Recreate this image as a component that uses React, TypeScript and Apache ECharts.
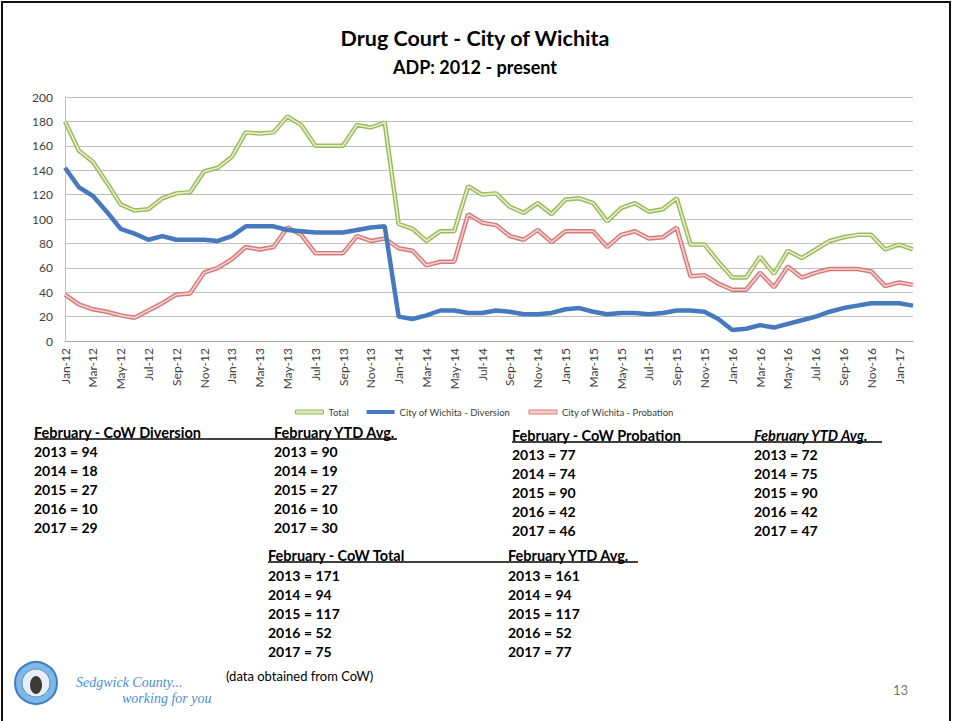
import React, { useEffect, useRef } from "react";
import * as echarts from "echarts";

const months = [
  "Jan-12","Feb-12","Mar-12","Apr-12","May-12","Jun-12","Jul-12","Aug-12","Sep-12","Oct-12","Nov-12","Dec-12",
  "Jan-13","Feb-13","Mar-13","Apr-13","May-13","Jun-13","Jul-13","Aug-13","Sep-13","Oct-13","Nov-13","Dec-13",
  "Jan-14","Feb-14","Mar-14","Apr-14","May-14","Jun-14","Jul-14","Aug-14","Sep-14","Oct-14","Nov-14","Dec-14",
  "Jan-15","Feb-15","Mar-15","Apr-15","May-15","Jun-15","Jul-15","Aug-15","Sep-15","Oct-15","Nov-15","Dec-15",
  "Jan-16","Feb-16","Mar-16","Apr-16","May-16","Jun-16","Jul-16","Aug-16","Sep-16","Oct-16","Nov-16","Dec-16",
  "Jan-17","Feb-17",
];

const total = [
  180,156,147,130,112,107,108,117,121,122,139,142,
  151,171,170,171,184,177,160,160,160,177,175,179,
  96,92,82,90,90,127,120,121,110,105,113,104,
  116,117,113,98,109,113,106,108,117,79,79,65,
  52,52,69,55,74,68,75,82,85,87,87,75,
  79,75,
];

const diversion = [
  142,126,119,106,92,88,83,86,83,83,83,82,
  86,94,94,94,91,90,89,89,89,91,93,94,
  20,18,21,25,25,23,23,25,24,22,22,23,
  26,27,24,22,23,23,22,23,25,25,24,18,
  9,10,13,11,14,17,20,24,27,29,31,31,
  31,29,
];

const probation = [
  38,30,26,24,21,19,25,31,38,39,56,60,
  67,77,75,77,93,87,72,72,72,86,82,84,
  76,74,62,65,65,104,97,95,86,83,91,81,
  90,90,90,77,87,90,84,85,93,53,54,47,
  42,42,56,44,61,52,56,59,59,59,57,45,
  48,46,
];

const seriesNames = ["Total", "City of Wichita - Diversion", "City of Wichita - Probation"];

const years = ["2013", "2014", "2015", "2016", "2017"];
const divFeb = [94, 18, 27, 10, 29];
const divYtd = [90, 19, 27, 10, 30];
const probFeb = [77, 74, 90, 42, 46];
const probYtd = [72, 75, 90, 42, 47];
const totFeb = [171, 94, 117, 52, 75];
const totYtd = [161, 94, 117, 52, 77];

const FONT = "Lato, 'Open Sans', sans-serif";

function txt(text: string, x: number, y: number, o: any = {}) {
  return {
    type: "text",
    x,
    y,
    silent: true,
    style: {
      text,
      fill: o.fill || "#000",
      fontSize: o.size || 14,
      fontWeight: o.weight || "bold",
      fontStyle: o.italic ? "italic" : "normal",
      fontFamily: o.family || FONT,
      align: o.align || "left",
      verticalAlign: "middle",
    },
  };
}

function block(
  x1: number, x2: number, yHead: number, yRow: number, lineEnd: number,
  h1: string, h2: string, v1: number[], v2: number[], italic2: boolean
) {
  const els: any[] = [];
  els.push(txt(h1, x1, yHead, { size: 14.5 }));
  els.push(txt(h2, x2, yHead, { size: 14.5, italic: italic2 }));
  els.push({
    type: "line",
    silent: true,
    shape: { x1: x1, y1: yHead + 7, x2: lineEnd, y2: yHead + 7 },
    style: { stroke: "#000", lineWidth: 1.5 },
  });
  years.forEach((yr, i) => {
    els.push(txt(`${yr} = ${v1[i]}`, x1, yRow + i * 19));
    els.push(txt(`${yr} = ${v2[i]}`, x2, yRow + i * 19));
  });
  return els;
}

export default function App() {
  const ref = useRef<HTMLDivElement>(null);
  useEffect(() => {
    if (!ref.current) return;
    const chart = echarts.init(ref.current, null, { renderer: "svg" });

    const graphics: any[] = [
      {
        type: "rect",
        silent: true,
        shape: { x: 2, y: 2, width: 948, height: 760 },
        style: { fill: "none", stroke: "#111", lineWidth: 2 },
      },
      txt("Drug Court - City of Wichita", 475, 38, { size: 21.5, align: "center" }),
      txt("ADP: 2012 - present", 475, 67, { size: 18, align: "center" }),
      ...block(34, 274, 432, 451, 397, "February - CoW Diversion", "February YTD Avg.", divFeb, divYtd, false),
      ...block(512, 754, 435, 454, 882, "February - CoW Probation", "February YTD Avg.", probFeb, probYtd, true),
      ...block(268, 508, 555, 575, 638, "February - CoW Total", "February YTD Avg.", totFeb, totYtd, false),
      txt("(data obtained from CoW)", 226, 676, { weight: "normal", size: 13 }),
      txt("13", 893, 690, { weight: "normal", size: 13, fill: "#777" }),
      {
        type: "circle",
        silent: true,
        shape: { cx: 36, cy: 683, r: 21 },
        style: { fill: "#7fb8e6", stroke: "#3d7fc1", lineWidth: 2 },
      },
      {
        type: "circle",
        silent: true,
        shape: { cx: 36, cy: 683, r: 14 },
        style: { fill: "#e8eef5", stroke: "#5a93c9", lineWidth: 1 },
      },
      {
        type: "ellipse",
        silent: true,
        shape: { cx: 36, cy: 685, rx: 6, ry: 9 },
        style: { fill: "#3b3a36" },
      },
      txt("Sedgwick County...", 76, 682, { weight: "normal", italic: true, size: 14, fill: "#4b8fd1", family: "'Liberation Serif', 'DejaVu Serif', serif" }),
      txt("working for you", 122, 698, { weight: "normal", italic: true, size: 14, fill: "#4b8fd1", family: "'Liberation Serif', 'DejaVu Serif', serif" }),
    ];

    const option: any = {
      animation: false,
      backgroundColor: "#ffffff",
      textStyle: { fontFamily: FONT },
      grid: { left: 65, right: 41, top: 97, bottom: 380, containLabel: false },
      legend: {
        left: 290,
        top: 402,
        itemWidth: 28,
        itemHeight: 4,
        itemGap: 18,
        textStyle: { fontSize: 9.5, color: "#404040", fontFamily: FONT },
        data: [
          { name: seriesNames[0], icon: "rect", itemStyle: { color: "#dbe8c2", borderColor: "#9bbb59", borderWidth: 1 } },
          { name: seriesNames[1], icon: "rect", itemStyle: { color: "#4679be", borderWidth: 0 } },
          { name: seriesNames[2], icon: "rect", itemStyle: { color: "#f3cfcf", borderColor: "#d67a79", borderWidth: 1 } },
        ],
      },
      xAxis: {
        type: "category",
        data: months,
        boundaryGap: false,
        axisLine: { show: true, lineStyle: { color: "#a6a6a6", width: 1 } },
        axisTick: { show: false },
        axisLabel: {
          rotate: 90,
          interval: 1,
          fontSize: 12,
          color: "#404040",
          margin: 7,
          fontFamily: FONT,
        },
        splitLine: { show: false },
      },
      yAxis: {
        type: "value",
        min: 0,
        max: 200,
        interval: 20,
        axisLine: { show: true, lineStyle: { color: "#bfbfbf", width: 1 } },
        axisTick: { show: false },
        axisLabel: { fontSize: 12, color: "#404040", margin: 12, fontFamily: FONT },
        splitLine: { show: true, lineStyle: { color: "#bfbfbf", width: 1 } },
      },
      series: [
        {
          name: seriesNames[0],
          type: "line",
          data: total,
          symbol: "none",
          lineStyle: { color: "#9bbb59", width: 4.5 },
          itemStyle: { color: "#9bbb59" },
          z: 2,
        },
        {
          name: "Total inner",
          type: "line",
          data: total,
          symbol: "none",
          lineStyle: { color: "#e6efd3", width: 1.6 },
          itemStyle: { color: "#e6efd3" },
          z: 3,
          silent: true,
        },
        {
          name: seriesNames[1],
          type: "line",
          data: diversion,
          symbol: "none",
          lineStyle: { color: "#4679be", width: 4.5 },
          itemStyle: { color: "#4679be" },
          z: 6,
        },
        {
          name: seriesNames[2],
          type: "line",
          data: probation,
          symbol: "none",
          lineStyle: { color: "#d67a79", width: 4.5 },
          itemStyle: { color: "#d67a79" },
          z: 4,
        },
        {
          name: "Probation inner",
          type: "line",
          data: probation,
          symbol: "none",
          lineStyle: { color: "#f5d3d2", width: 1.6 },
          itemStyle: { color: "#f5d3d2" },
          z: 5,
          silent: true,
        },
      ],
      graphic: graphics,
    };
    chart.setOption(option);
    return () => chart.dispose();
  }, []);

  return (
    <div
      ref={ref}
      style={{ position: "fixed", left: 0, top: 0, width: 954, height: 721, background: "#fff" }}
    />
  );
}
